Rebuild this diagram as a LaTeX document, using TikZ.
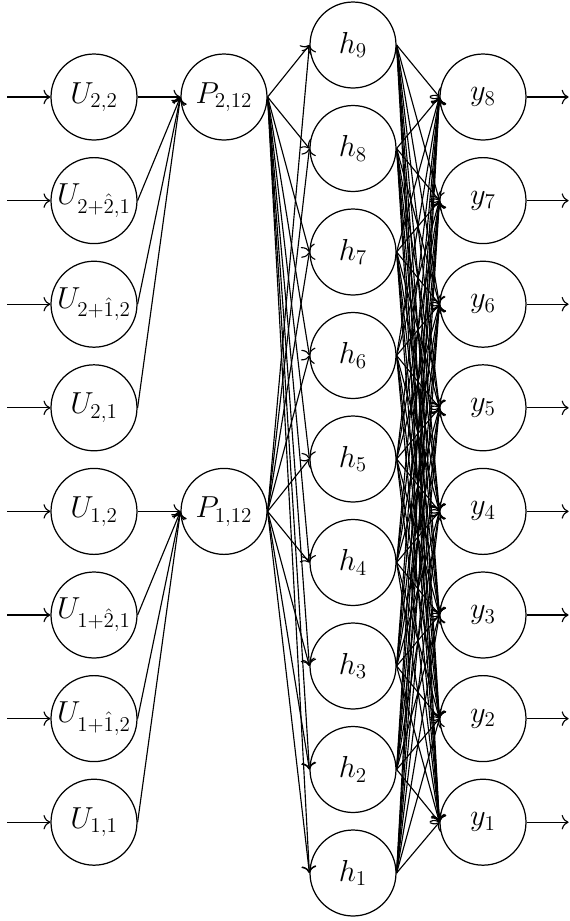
\documentclass[tikz,border=0pt]{standalone}
\usetikzlibrary{arrows.meta}
\begin{document}
\begin{tikzpicture}[x=0.02cm,y=-0.02cm,
  neuron/.style={circle,draw,line width=0.7pt,minimum size=1.72cm,inner sep=0pt,font=\LARGE},
  conn/.style={-{To[scale=1.3]},line width=0.65pt}]
\useasboundingbox (0,0) rectangle (569,921);

% input units
\node[neuron] (U22) at (94,97)    {$U_{2,2}$};
\node[neuron] (U2a) at (94,200.6) {$U_{2+\hat{2},1}$};
\node[neuron] (U2b) at (94,304.2) {$U_{2+\hat{1},2}$};
\node[neuron] (U21) at (94,407.8) {$U_{2,1}$};
\node[neuron] (U12) at (94,511.4) {$U_{1,2}$};
\node[neuron] (U1a) at (94,615)   {$U_{1+\hat{2},1}$};
\node[neuron] (U1b) at (94,718.6) {$U_{1+\hat{1},2}$};
\node[neuron] (U11) at (94,822.2) {$U_{1,1}$};

% plaquette units
\node[neuron] (P2) at (224,97)    {$P_{2,12}$};
\node[neuron] (P1) at (224,511.4) {$P_{1,12}$};

% hidden layer
\foreach \i in {1,...,9}
  \node[neuron] (h\i) at (353,{45+103.5*(9-\i)}) {$h_{\i}$};

% output layer
\foreach \i in {1,...,8}
  \node[neuron] (y\i) at (483,{97+103.6*(8-\i)}) {$y_{\i}$};

% incoming arrows
\foreach \n in {U22,U2a,U2b,U21,U12,U1a,U1b,U11} {
  \path (\n.west) ++(-43,0) coordinate (in\n);
  \draw[conn] (in\n) -- (\n.west);
}

% links into the plaquettes
\foreach \n in {U22,U2a,U2b,U21}
  \draw[conn] (\n.east) -- (P2.west);
\foreach \n in {U12,U1a,U1b,U11}
  \draw[conn] (\n.east) -- (P1.west);

% plaquettes to hidden layer
\foreach \p in {P1,P2}
  \foreach \i in {1,...,9}
    \draw[conn] (\p.east) -- (h\i.west);

% hidden layer to outputs
\foreach \i in {1,...,9}
  \foreach \j in {1,...,8}
    \draw[conn] (h\i.east) -- (y\j.west);

% outgoing arrows
\foreach \j in {1,...,8} {
  \path (y\j.east) ++(42,0) coordinate (out\j);
  \draw[conn] (y\j.east) -- (out\j);
}
\end{tikzpicture}
\end{document}
